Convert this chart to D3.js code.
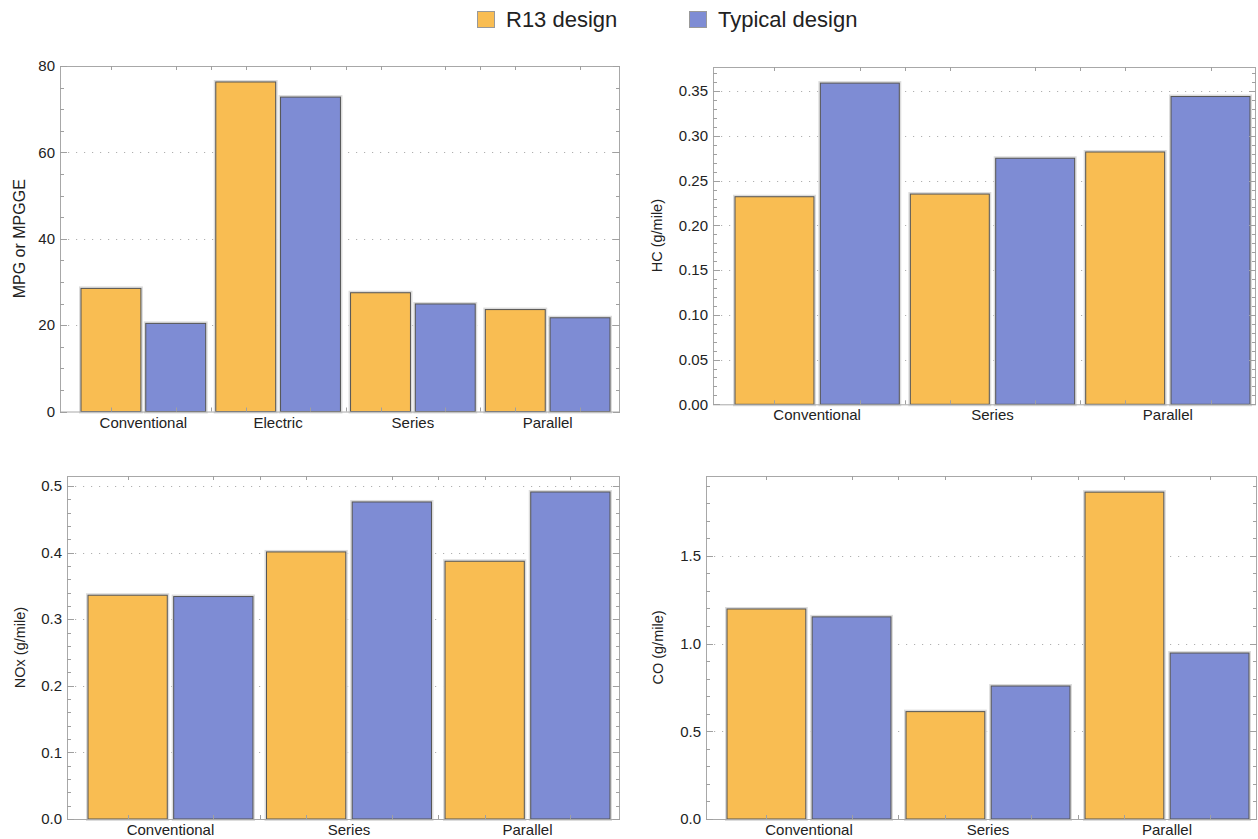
<!DOCTYPE html>
<html lang="en">
<head>
    <meta charset="UTF-8">
    <title>R13 vs Typical design</title>
    <script src="https://d3js.org/d3.v7.min.js"></script>
    <style>
        body {
            margin: 0;
            background-color: white;
        }

        svg {
            display: block;
            font-family: "Liberation Sans", Arial, sans-serif;
        }

        .tick-label {
            font-size: 15px;
            fill: #222;
        }

        .cat-label {
            font-size: 15px;
            fill: #222;
            text-anchor: middle;
        }

        .axis-title {
            fill: #222;
            text-anchor: middle;
        }

        .grid {
            stroke: #b0b0b0;
            stroke-width: 1;
            stroke-dasharray: 1.2 6.8;
        }

        .frame {
            fill: none;
            stroke: #a8a8a8;
            stroke-width: 1;
        }

        .tick {
            stroke: #a0a0a0;
            stroke-width: 1;
        }
    </style>
</head>
<body>
<svg></svg>

<script>
    // 数据
    const seriesNames = ["R13 design", "Typical design"];
    const seriesColors = ["#f9bd52", "#7e8cd4"];

    const mpgCategories = ["Conventional", "Electric", "Series", "Parallel"];
    const mpgR13 = [28.5, 76.3, 27.5, 23.6];
    const mpgTypical = [20.4, 72.8, 24.9, 21.7];

    const emisCategories = ["Conventional", "Series", "Parallel"];
    const hcR13 = [0.232, 0.235, 0.282];
    const hcTypical = [0.359, 0.275, 0.344];
    const noxR13 = [0.336, 0.401, 0.387];
    const noxTypical = [0.334, 0.476, 0.491];
    const coR13 = [1.197, 0.612, 1.863];
    const coTypical = [1.152, 0.758, 0.946];

    const svg = d3.select("svg").attr("width", 1258).attr("height", 839);

    // 四个面板的布局
    const panels = [
        {
            title: "MPG or MPGGE", titleX: 25, titleSize: 16,
            categories: mpgCategories, values: [mpgR13, mpgTypical],
            left: 60, right: 620, top: 66, bottom: 411.5,
            barLeft: 81, barRight: 610, groupPad: 0.075,
            yMax: 80, major: 20, minor: 5, fmt: d3.format("d")
        },
        {
            title: "HC (g/mile)", titleX: 662, titleSize: 14.5,
            categories: emisCategories, values: [hcR13, hcTypical],
            left: 713, right: 1256, top: 67, bottom: 404.3,
            barLeft: 735, barRight: 1250, groupPad: 0.063,
            yMax: 0.377, major: 0.05, minor: 0.01, fmt: d3.format(".2f")
        },
        {
            title: "NOx (g/mile)", titleX: 25, titleSize: 14.5,
            categories: emisCategories, values: [noxR13, noxTypical],
            left: 67, right: 620, top: 476, bottom: 819,
            barLeft: 88, barRight: 610, groupPad: 0.076,
            yMax: 0.515, major: 0.1, minor: 0.02, fmt: d3.format(".1f")
        },
        {
            title: "CO (g/mile)", titleX: 663, titleSize: 14.5,
            categories: emisCategories, values: [coR13, coTypical],
            left: 706, right: 1257, top: 476, bottom: 819,
            barLeft: 727, barRight: 1249, groupPad: 0.084,
            yMax: 1.955, major: 0.5, minor: 0.1, fmt: d3.format(".1f")
        }
    ];

    function drawPanel(p) {
        const g = svg.append("g");

        const y = d3.scaleLinear().domain([0, p.yMax]).range([p.bottom, p.top]);
        const x0 = d3.scaleBand()
            .domain(p.categories)
            .range([p.barLeft, p.barRight])
            .paddingInner(p.groupPad)
            .paddingOuter(0);
        const x1 = d3.scaleBand()
            .domain(seriesNames)
            .range([0, x0.bandwidth()])
            .paddingInner(0.075);

        // y 刻度值
        const nMinor = Math.floor(p.yMax / p.minor + 1e-6);
        const tickVals = d3.range(0, nMinor + 1).map(i => i * p.minor);
        const isMajor = v => Math.abs(v / p.major - Math.round(v / p.major)) < 1e-6;
        const majorVals = tickVals.filter(isMajor);

        // 网格线
        g.selectAll(".grid")
            .data(majorVals.filter(v => v > 0))
            .enter()
            .append("line")
            .attr("class", "grid")
            .attr("x1", p.left)
            .attr("x2", p.right)
            .attr("y1", d => Math.round(y(d)) + 0.5)
            .attr("y2", d => Math.round(y(d)) + 0.5);

        // 柱子
        const bars = [];
        p.categories.forEach((cat, i) => {
            seriesNames.forEach((s, j) => {
                bars.push({ cat: cat, series: s, color: seriesColors[j], value: p.values[j][i] });
            });
        });

        g.selectAll(".halo")
            .data(bars)
            .enter()
            .append("rect")
            .attr("class", "halo")
            .attr("x", d => x0(d.cat) + x1(d.series))
            .attr("y", d => y(d.value))
            .attr("width", x1.bandwidth())
            .attr("height", d => p.bottom - y(d.value))
            .attr("fill", "white")
            .attr("stroke", "#dcdcdc")
            .attr("stroke-width", 4);

        g.selectAll(".bar")
            .data(bars)
            .enter()
            .append("rect")
            .attr("class", "bar")
            .attr("x", d => x0(d.cat) + x1(d.series))
            .attr("y", d => y(d.value))
            .attr("width", x1.bandwidth())
            .attr("height", d => p.bottom - y(d.value))
            .attr("fill", d => d.color)
            .attr("stroke", "#555")
            .attr("stroke-width", 1);

        // 边框
        g.append("rect")
            .attr("class", "frame")
            .attr("x", p.left + 0.5)
            .attr("y", p.top + 0.5)
            .attr("width", p.right - p.left - 1)
            .attr("height", p.bottom - p.top);

        // y 刻度 (左右两侧，向内)
        tickVals.forEach(v => {
            const len = isMajor(v) ? 7 : 4;
            const yy = Math.round(y(v)) + 0.5;
            g.append("line").attr("class", "tick")
                .attr("x1", p.left).attr("x2", p.left + len)
                .attr("y1", yy).attr("y2", yy);
            g.append("line").attr("class", "tick")
                .attr("x1", p.right - len).attr("x2", p.right)
                .attr("y1", yy).attr("y2", yy);
        });

        g.selectAll(".tick-label")
            .data(majorVals)
            .enter()
            .append("text")
            .attr("class", "tick-label")
            .attr("x", p.left - 5)
            .attr("y", d => y(d))
            .attr("dy", "0.35em")
            .attr("text-anchor", "end")
            .text(d => p.fmt(d));

        // x 刻度：柱子中心和分组边界
        const xTicks = [];
        bars.forEach(d => xTicks.push(x0(d.cat) + x1(d.series) + x1.bandwidth() / 2));
        p.categories.slice(1).forEach(c => xTicks.push(x0(c) - x0.step() * p.groupPad / 2));
        xTicks.forEach(xx => {
            const xr = Math.round(xx) + 0.5;
            g.append("line").attr("class", "tick")
                .attr("x1", xr).attr("x2", xr)
                .attr("y1", p.bottom).attr("y2", p.bottom - 4);
            g.append("line").attr("class", "tick")
                .attr("x1", xr).attr("x2", xr)
                .attr("y1", p.top).attr("y2", p.top + 4);
        });

        // 分类标签
        g.selectAll(".cat-label")
            .data(p.categories)
            .enter()
            .append("text")
            .attr("class", "cat-label")
            .attr("x", d => x0(d) + x0.bandwidth() / 2)
            .attr("y", p.bottom + 16)
            .text(d => d);

        // y 轴标题
        g.append("text")
            .attr("class", "axis-title")
            .style("font-size", p.titleSize + "px")
            .attr("transform", `translate(${p.titleX},${(p.top + p.bottom) / 2}) rotate(-90)`)
            .text(p.title);
    }

    panels.forEach(drawPanel);

    // 图例
    const legendX = [477, 689];
    const legend = svg.append("g");
    seriesNames.forEach((name, i) => {
        legend.append("rect")
            .attr("x", legendX[i] + 0.5)
            .attr("y", 11.5)
            .attr("width", 17)
            .attr("height", 16)
            .attr("fill", seriesColors[i])
            .attr("stroke", "#999")
            .attr("stroke-width", 1);
        legend.append("text")
            .attr("x", legendX[i] + 29)
            .attr("y", 27)
            .style("font-size", "22px")
            .attr("fill", "#222")
            .text(name);
    });
</script>
</body>
</html>
